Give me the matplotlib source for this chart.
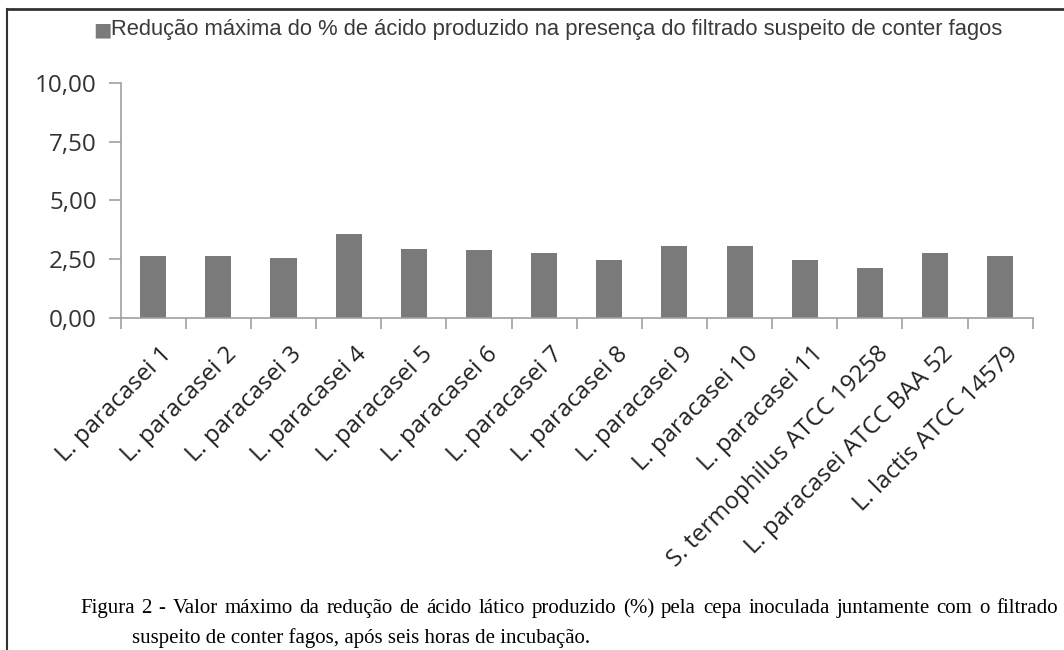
import numpy as np
import matplotlib.pyplot as plt

# cepas testadas
cepas = ["L. paracasei 1", "L. paracasei 2", "L. paracasei 3", "L. paracasei 4",
         "L. paracasei 5", "L. paracasei 6", "L. paracasei 7", "L. paracasei 8",
         "L. paracasei 9", "L. paracasei 10", "L. paracasei 11",
         "S. termophilus ATCC 19258", "L. paracasei ATCC BAA 52", "L. lactis ATCC 14579"]
# reducao maxima (%)
reducao = [2.66, 2.66, 2.55, 3.56, 2.94, 2.89, 2.79, 2.49, 3.07, 3.07, 2.49, 2.15, 2.79, 2.66]
yticks = [0, 2.5, 5, 7.5, 10]
ylabels = ["0,00", "2,50", "5,00", "7,50", "10,00"]
legenda = "Redução máxima do % de ácido produzido na presença do filtrado suspeito de conter fagos"
linha1 = "Figura 2 - Valor máximo da redução de ácido lático produzido (%) pela cepa inoculada juntamente com o filtrado"
linha2 = "suspeito de conter fagos, após seis horas de incubação."

W, H = 1064, 650
fig = plt.figure(figsize=(W / 100, H / 100), dpi=100)
ax = fig.add_axes([0.1134, 0.5103, 0.8572, 0.3625])

x = np.arange(len(cepas))
ax.bar(x, reducao, width=0.4, color="#7a7a7a", label=legenda)
ax.set_xlim(-0.5, len(cepas) - 0.5)
ax.set_ylim(0, 10)

ax.set_yticks(yticks)
ax.set_yticklabels(ylabels, fontsize=17.5, family="Open Sans", color="#333333")
ax.set_xticks(x + 0.1)
ax.set_xticklabels(cepas, rotation=45, ha="right", rotation_mode="anchor",
                   fontsize=17.3, family="Open Sans", color="#222222")
ax.tick_params(axis="x", length=0, pad=17)
ax.set_xticks(np.arange(len(cepas) + 1) - 0.5, minor=True)
ax.tick_params(axis="x", which="minor", length=8, color="#a0a0a0", width=1.2)
ax.tick_params(axis="y", length=9, color="#a0a0a0", width=1.2, pad=8)

for s in ["top", "right"]:
    ax.spines[s].set_visible(False)
for s in ["left", "bottom"]:
    ax.spines[s].set_color("#a0a0a0")
    ax.spines[s].set_linewidth(1.2)

# legenda no topo
fig.text(93 / W, 0.954, "■", fontsize=14, color="#7a7a7a", va="center", ha="left",
         family="DejaVu Sans")
fig.text(111 / W, 0.954, legenda, fontsize=15.8, color="#3a3a3a", va="center", ha="left",
         family="Liberation Sans")

# moldura
fig.add_artist(plt.Line2D([0.0066, 1.0], [0.986, 0.986], color="#333333", lw=2))
fig.add_artist(plt.Line2D([0.0066, 0.0066], [0.0, 0.986], color="#333333", lw=1.5))

# legenda da figura, primeira linha justificada
r = fig.canvas.get_renderer()
palavras = linha1.split()
objs = []
for p in palavras:
    peso = "bold" if p == "-" else "normal"
    objs.append(fig.text(0, 0.064, p, fontsize=15, family="Liberation Serif",
                         weight=peso, ha="left", va="center"))
larg = [o.get_window_extent(r).width for o in objs]
x0, x1 = 80, 1058
gap = (x1 - x0 - sum(larg)) / (len(palavras) - 1)
pos = x0
for o, w in zip(objs, larg):
    o.set_x(pos / W)
    pos += w + gap
fig.text(132 / W, 0.018, linha2, fontsize=15, family="Liberation Serif", ha="left", va="center")

fig.savefig("out.png", dpi=100)
